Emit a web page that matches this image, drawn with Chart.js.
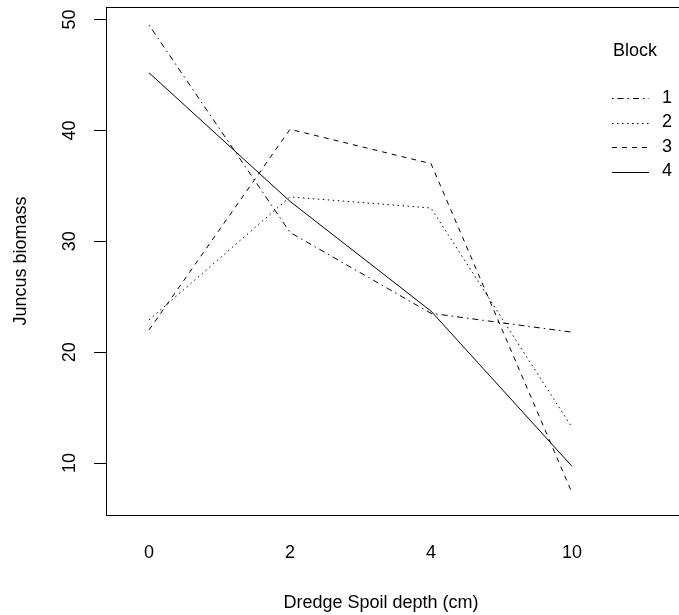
<!DOCTYPE html>
<html>
<head>
<meta charset="utf-8">
<script src="https://cdn.jsdelivr.net/npm/chart.js@4"></script>
<style>
  html, body { margin: 0; padding: 0; background: #fff; }
  #wrap { width: 679px; height: 615px; overflow: hidden; position: relative; }
  #inner { width: 700px; height: 615px; }
</style>
</head>
<body>
<div id="wrap"><div id="inner"><canvas id="myChart"></canvas></div></div>
<script>
// depth categories and Juncus biomass per block
var depths = ["0", "2", "4", "10"];
var blocks = ["1", "2", "3", "4"];
var block1 = [49.5, 30.8, 23.5, 21.8];
var block2 = [22.9, 34.0, 33.0, 13.2];
var block3 = [22.0, 40.1, 37.0, 7.3];
var block4 = [45.2, 33.6, 23.7, 9.7];
var yTicks = [10, 20, 30, 40, 50];

var dashes = [[1.5, 4, 6, 4], [1.5, 3.5], [5, 5], []];
var series = [block1, block2, block3, block4];
var font = '18px "Liberation Sans", Arial, sans-serif';

function points(vals) {
    return vals.map(function (v, i) { return { x: i + 1, y: v }; });
}

var boxAndText = {
    id: 'boxAndText',
    afterDraw: function (chart) {
        var ctx = chart.ctx;
        var ca = chart.chartArea;
        var xs = chart.scales.x, ys = chart.scales.y;
        ctx.save();
        ctx.strokeStyle = '#000';
        ctx.lineWidth = 1;
        ctx.setLineDash([]);
        ctx.strokeRect(Math.round(ca.left) + 0.5, Math.round(ca.top) + 0.5, ca.right - ca.left, ca.bottom - ca.top);

        ctx.fillStyle = '#000';
        ctx.font = font;
        ctx.textAlign = 'center';
        ctx.textBaseline = 'middle';
        // x tick labels
        depths.forEach(function (d, i) {
            ctx.fillText(d, xs.getPixelForValue(i + 1), 553);
        });
        // x title
        ctx.fillText("Dredge Spoil depth (cm)", 381, 603);
        // y tick labels, rotated
        yTicks.forEach(function (v) {
            ctx.save();
            ctx.translate(70, ys.getPixelForValue(v));
            ctx.rotate(-Math.PI / 2);
            ctx.fillText(String(v), 0, 0);
            ctx.restore();
        });
        ctx.save();
        ctx.translate(21, (ca.top + ca.bottom) / 2);
        ctx.rotate(-Math.PI / 2);
        ctx.fillText("Juncus biomass", 0, 0);
        ctx.restore();

        // legend
        ctx.textAlign = 'left';
        ctx.fillText("Block", 613, 51);
        chart.data.datasets.forEach(function (ds, i) {
            var y = 98 + i * 24.5;
            ctx.beginPath();
            ctx.setLineDash(ds.borderDash);
            ctx.moveTo(612, Math.round(y) + 0.5);
            ctx.lineTo(649, Math.round(y) + 0.5);
            ctx.stroke();
            ctx.setLineDash([]);
            ctx.fillText(ds.label, 662, y);
        });
        ctx.restore();
    }
};

new Chart(document.getElementById("myChart"), {
    type: 'line',
    data: {
        datasets: series.map(function (s, i) {
            return {
                label: blocks[i],
                data: points(s),
                borderColor: '#000',
                borderWidth: 1,
                borderDash: dashes[i],
                pointRadius: 0,
                fill: false,
                tension: 0
            };
        })
    },
    options: {
        responsive: true,
        maintainAspectRatio: false,
        animation: false,
        layout: { padding: { top: 7, right: 5, left: 0, bottom: 0 } },
        plugins: { legend: { display: false }, tooltip: { enabled: false } },
        scales: {
            x: {
                type: 'linear',
                min: 0.695,
                max: 4.872,
                grid: { display: false },
                border: { display: false },
                ticks: { display: false },
                afterBuildTicks: function (s) { s.ticks = depths.map(function (d, i) { return { value: i + 1 }; }); },
                afterFit: function (s) { s.height = 100; }
            },
            y: {
                min: 5.31,
                max: 51.13,
                grid: { drawOnChartArea: false, drawTicks: true, tickLength: 12, color: '#000' },
                border: { display: false },
                ticks: { display: false },
                afterBuildTicks: function (s) { s.ticks = yTicks.map(function (v) { return { value: v }; }); },
                afterFit: function (s) { s.width = 106; }
            }
        }
    },
    plugins: [boxAndText]
});
</script>
</body>
</html>
